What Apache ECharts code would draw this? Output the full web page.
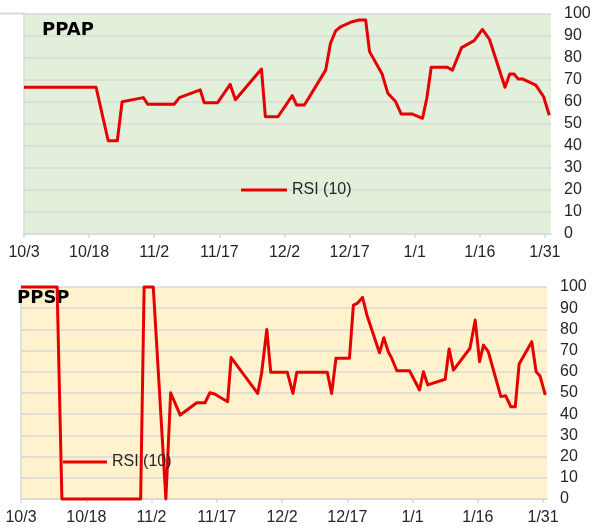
<!DOCTYPE html>
<html>
<head>
<meta charset="utf-8">
<script src="https://cdn.jsdelivr.net/npm/echarts@6/dist/echarts.min.js"></script>
<style>html,body{margin:0;padding:0;background:#fff}#c{width:600px;height:529px}</style>
</head>
<body>
<div id="c"></div>
<script>
// Day offsets counted from 10/3
const tickDays = [0, 15, 30, 45, 60, 75, 90, 105, 120];
const tickLabels = ['10/3', '10/18', '11/2', '11/17', '12/2', '12/17', '1/1', '1/16', '1/31'];
const yTicks = [0, 10, 20, 30, 40, 50, 60, 70, 80, 90, 100];

const ppapDays = [0, 16.6, 19.4, 21.5, 22.6, 27.5, 28.5, 34.6, 35.8, 40.6, 41.5, 44.6, 47.5, 48.7, 54.7, 55.6, 58.5, 61.8, 62.8, 64.6, 69.5, 70.6, 71.8, 72.9, 75.6, 77.2, 78.7, 79.6, 82.5, 83.8, 85.6, 86.9, 89.5, 91.8, 92.8, 93.8, 97.5, 98.7, 100.8, 103.7, 105.6, 107.2, 110.8, 111.9, 112.9, 113.8, 114.8, 117.9, 119.7, 121];
const ppapRsi = [66.7, 66.7, 42.4, 42.4, 60.1, 62, 59, 59, 62, 65.5, 59.7, 59.7, 68, 61, 75, 53.3, 53.3, 62.9, 58.6, 58.6, 74.5, 86.7, 92.3, 94.2, 96.5, 97.3, 97.3, 82.9, 72.7, 64, 60.2, 54.5, 54.5, 52.6, 61.7, 75.8, 75.8, 74.5, 84.7, 87.9, 93, 88.6, 66.7, 72.7, 72.7, 70.5, 70.5, 67.7, 62.4, 54];

const ppspDays = [0, 8.3, 9.4, 27.5, 28.3, 30.4, 33.3, 34.4, 36.6, 40.4, 42.3, 43.4, 44.5, 47.5, 48.3, 54.4, 55.3, 56.5, 57.4, 61.2, 62.5, 63.4, 70.4, 71.4, 72.4, 75.5, 76.4, 77.3, 78.5, 79.5, 82.4, 83.4, 84.4, 85.2, 86.4, 89.3, 91.6, 92.5, 93.5, 97.5, 98.4, 99.4, 103.2, 104.4, 105.4, 106.3, 107.4, 110.3, 111.4, 112.6, 113.6, 114.5, 117.4, 118.4, 119.3, 120.5];
const ppspRsi = [100, 100, 0, 0, 100, 100, 0, 50.1, 39.6, 45.4, 45.4, 50.1, 49.5, 45.9, 66.7, 49.8, 59.3, 80, 59.8, 59.8, 49.8, 59.8, 59.8, 49.8, 66.4, 66.4, 91.5, 92.3, 95.1, 86.8, 69, 76.1, 69.5, 66.4, 60.5, 60.5, 51.4, 60, 53.8, 56.5, 70.8, 60.8, 71.1, 84.4, 64.8, 72.6, 69.5, 48.3, 48.7, 43.5, 43.5, 63.7, 74.2, 60, 58, 49.1];

const seriesName = 'RSI (10)';
const red = '#e60000';
const gridGray = '#d9d9d9';
const txt = '#262626';
const lblFont = 'Liberation Sans, Arial, sans-serif';

function pairs(xs, ys) { return xs.map((x, i) => [x, ys[i]]); }

function xAxis(gridIndex, max) {
  return {
    type: 'value', gridIndex, min: 0, max,
    splitLine: { show: false },
    axisLine: { show: true, lineStyle: { color: gridGray, width: 1.5 } },
    axisTick: { show: true, length: 4, lineStyle: { color: gridGray, width: 1.5 }, customValues: tickDays },
    axisLabel: {
      customValues: tickDays, margin: 11, color: txt, fontSize: 16, fontFamily: lblFont,
      formatter: v => { const i = tickDays.indexOf(Math.round(v)); return i >= 0 ? tickLabels[i] : ''; }
    }
  };
}
function yAxis(gridIndex) {
  return {
    type: 'value', gridIndex, position: 'right', min: 0, max: 100, interval: 10,
    splitLine: { show: true, lineStyle: { color: gridGray, width: 1.5 } },
    axisLine: { show: true, lineStyle: { color: gridGray, width: 1.5 } },
    axisTick: { show: true, inside: false, length: 4, lineStyle: { color: gridGray, width: 1.5 } },
    axisLabel: { margin: 13, color: txt, fontSize: 16, fontFamily: lblFont, formatter: v => yTicks.includes(v) ? String(v) : '' }
  };
}

const chart = echarts.init(document.getElementById('c'), null, { renderer: 'canvas' });
chart.setOption({
  animation: false,
  grid: [
    { left: 24, top: 14, width: 527, height: 220, show: true, backgroundColor: '#e2efda', borderWidth: 0 },
    { left: 21, top: 287, width: 526, height: 212, show: true, backgroundColor: '#fff2cc', borderWidth: 0 }
  ],
  xAxis: [xAxis(0, 121.4), xAxis(1, 120.9)],
  yAxis: [yAxis(0), yAxis(1)],
  legend: [
    { data: [seriesName], left: 241, top: 182, icon: 'rect', itemWidth: 46, itemHeight: 3, itemGap: 5,
      textStyle: { color: txt, fontSize: 16, fontFamily: lblFont, padding: [0, 0, 0, 0] }, padding: 0, selectedMode: false },
    { data: [seriesName], left: 63, top: 454, icon: 'rect', itemWidth: 44, itemHeight: 3, itemGap: 5,
      textStyle: { color: txt, fontSize: 16, fontFamily: lblFont }, padding: 0, selectedMode: false }
  ],
  graphic: [
    { type: 'line', z: 1, shape: { x1: 0, y1: 13.5, x2: 24, y2: 13.5 }, style: { stroke: gridGray, lineWidth: 2 } },
    { type: 'text', z: 1, left: 42, top: 21, style: { text: 'PPAP', font: 'bold 18px "DejaVu Sans", Verdana, sans-serif', fill: '#000' } },
    { type: 'text', z: 1, left: 17, top: 289, style: { text: 'PPSP', font: 'bold 18px "DejaVu Sans", Verdana, sans-serif', fill: '#000' } }
  ],
  series: [
    { name: seriesName, type: 'line', xAxisIndex: 0, yAxisIndex: 0, data: pairs(ppapDays, ppapRsi), showSymbol: false, symbol: 'none',
      clip: false, lineStyle: { color: red, width: 3, join: 'round' }, itemStyle: { color: red }, z: 3 },
    { name: seriesName, type: 'line', xAxisIndex: 1, yAxisIndex: 1, data: pairs(ppspDays, ppspRsi), showSymbol: false, symbol: 'none',
      clip: false, lineStyle: { color: red, width: 3, join: 'round' }, itemStyle: { color: red }, z: 3 }
  ]
});
</script>
</body>
</html>
